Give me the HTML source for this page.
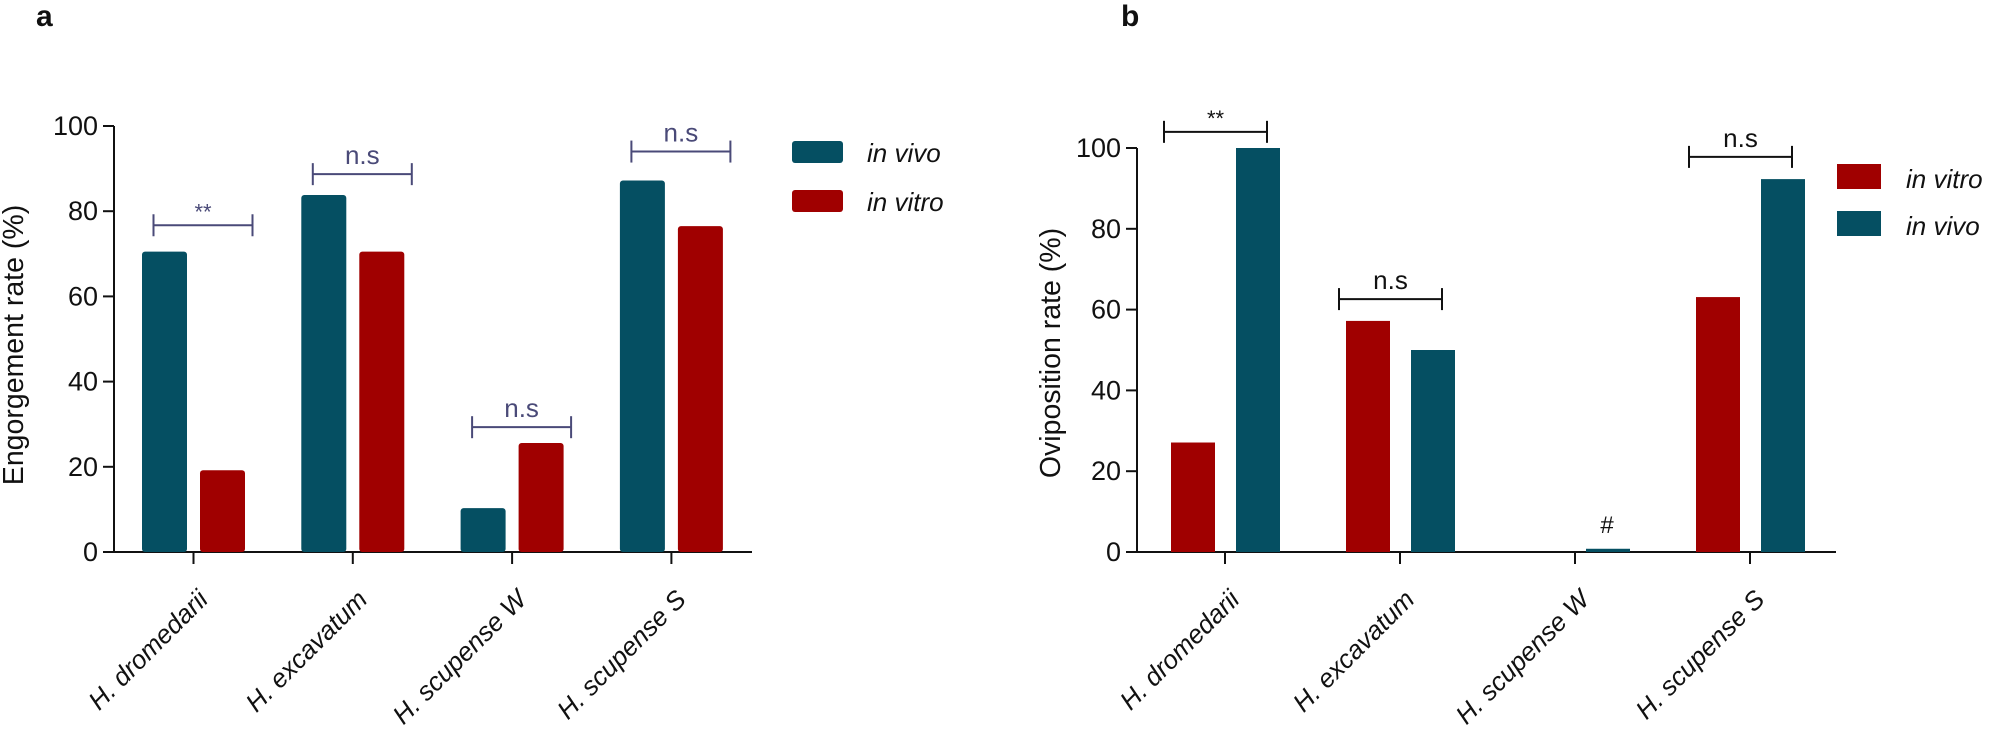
<!DOCTYPE html>
<html><head><meta charset="utf-8"><style>body{margin:0;background:#fff}svg{display:block;font-family:"Liberation Sans",Arial,sans-serif}</style></head>
<body>
<svg id="chart" width="2005" height="742" viewBox="0 0 2005 742"></svg>
<script>
const categories = ["H. dromedarii","H. excavatum","H. scupense W","H. scupense S"];
const yTicks = [0,20,40,60,80,100];
const engorgeVivo = [70.5,83.8,10.3,87.2];
const engorgeVitro = [19.2,70.5,25.6,76.5];
const ovipVitro = [27.1,57.2,0,63.1];
const ovipVivo = [100,50,0.8,92.3];
const bracketsA = [{i:0,v:76.7,t:"**"},{i:1,v:88.7,t:"n.s"},{i:2,v:29.3,t:"n.s"},{i:3,v:94,t:"n.s"}];
const bracketsB = [{i:0,v:104,t:"**"},{i:1,v:62.6,t:"n.s"},{i:3,v:97.8,t:"n.s"}];
const TEAL="#054f62", RED="#a00000";
const svg=document.getElementById('chart');
const NS="http://www.w3.org/2000/svg";
function mk(tag,attrs,parent,text){const e=document.createElementNS(NS,tag);for(const k in attrs)e.setAttribute(k,attrs[k]);if(text!==undefined)e.textContent=text;(parent||svg).appendChild(e);return e;}

function panel(o){
  const g=mk('g',{});
  
  
  const y=v=>o.y0-(o.y0-o.y100)*v/100;
  const x=i=>o.cx0+i*o.step;
  const ax=mk('line',{x1:o.ax,y1:o.y100,x2:o.ax,y2:o.y0,stroke:'#111','stroke-width':2},g);
  
  
  yTicks.forEach(t=>{
    const tl=mk('line',{x1:o.ax-11,y1:y(t),x2:o.ax,y2:y(t),stroke:'#111','stroke-width':2},g);
    
    
    const tx=mk('text',{x:o.ax-16,y:y(t)+9,'text-anchor':'end','font-size':27,fill:'#111'},g,String(t));
    
    
  });
  const xa=mk('line',{x1:o.ax,y1:o.y0,x2:o.axEnd,y2:o.y0,stroke:'#111','stroke-width':2},g);
  
  
  const yt=mk('text',{x:o.ytx,y:o.yty,'text-anchor':'middle','font-size':28.5,fill:'#111',transform:`rotate(-90 ${o.ytx} ${o.yty})`},g,o.ytitle);
  
  
  categories.forEach((c,i)=>{
    const tk=mk('line',{x1:x(i),y1:o.y0,x2:x(i),y2:o.y0+12,stroke:'#111','stroke-width':2},g);
    
    
    const px=x(i)+16, py=601;
    const lb=mk('text',{x:px,y:py,'text-anchor':'end','font-size':26,'font-style':'italic',fill:'#111',transform:`rotate(-45 ${px} ${py})`},g,c);
    
    
  });
  o.series.forEach(s=>{
    s.vals.forEach((v,i)=>{
      const bx=x(i)+s.off-o.bw/2;
      const r=mk('rect',{x:bx,y:y(v),width:o.bw,height:o.y0-y(v),fill:s.color,rx:o.rx,ry:o.rx},g);
      
      
    });
  });
  o.brackets.forEach(b=>{
    const x1=x(b.i)+o.brL, x2=x(b.i)+o.brR, yy=y(b.v);
    const bg=mk('g',{stroke:o.brColor,'stroke-width':2},g);
    
    
    mk('line',{x1:x1,y1:yy,x2:x2,y2:yy},bg);
    mk('line',{x1:x1,y1:yy-11,x2:x1,y2:yy+11},bg);
    mk('line',{x1:x2,y1:yy-11,x2:x2,y2:yy+11},bg);
    const st=mk('text',{x:(x1+x2)/2,y:yy-(b.t==='**'?6:10),'text-anchor':'middle','font-size':b.t==='**'?22:26,fill:o.brColor},g,b.t);
    
    
  });
  o.legend.forEach((l,k)=>{
    const ly=o.legY+k*o.legDy;
    const lr=mk('rect',{x:o.legX,y:ly,width:o.legW,height:o.legH,fill:l.color,rx:o.rx,ry:o.rx},g);
    
    
    const lt=mk('text',{x:o.legTx,y:ly+o.legH-1,'font-size':26,'font-style':'italic',fill:'#111'},g,l.label);
    
    
  });
  const pl=mk('text',{x:o.plx,y:26,'font-size':30,'font-weight':'bold',fill:'#111'},g,o.plabel);
  
  
}

panel({name:'panel-a-engorgement',ax:114,axEnd:752,y0:552,y100:126,cx0:193.5,step:159.3,bw:45,rx:3,
  ytitle:'Engorgement rate (%)',ytx:23,yty:345,plabel:'a',plx:36,
  series:[{key:'in-vivo',vals:engorgeVivo,color:TEAL,off:-29},{key:'in-vitro',vals:engorgeVitro,color:RED,off:29}],
  brackets:bracketsA,brL:-40,brR:59,brColor:'#4a4a78',
  legend:[{key:'in-vivo',label:'in vivo',color:TEAL},{key:'in-vitro',label:'in vitro',color:RED}],
  legX:792,legY:141,legDy:49,legW:51,legH:22,legTx:867});

panel({name:'panel-b-oviposition',ax:1137,axEnd:1836,y0:552,y100:148,cx0:1225,step:175,bw:44,rx:0,
  ytitle:'Oviposition rate (%)',ytx:1060,yty:353,plabel:'b',plx:1121,
  series:[{key:'in-vitro',vals:ovipVitro,color:RED,off:-32},{key:'in-vivo',vals:ovipVivo,color:TEAL,off:33}],
  brackets:bracketsB,brL:-61,brR:42,brColor:'#111',
  legend:[{key:'in-vitro',label:'in vitro',color:RED},{key:'in-vivo',label:'in vivo',color:TEAL}],
  legX:1837,legY:164,legDy:47,legW:44,legH:25,legTx:1906});

const hash=mk('text',{x:1607,y:533,'text-anchor':'middle','font-size':24,fill:'#111'},svg,'#');


</script>
</body></html>
